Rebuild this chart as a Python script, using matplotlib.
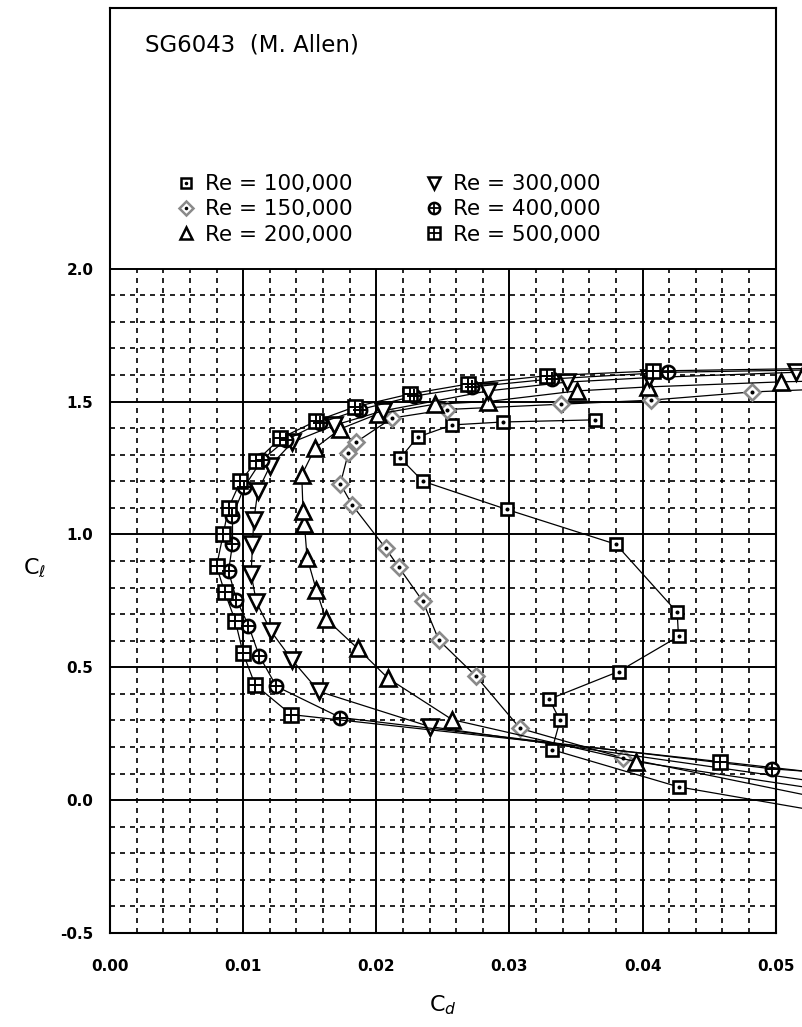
import matplotlib
matplotlib.use('Agg')
import matplotlib.pyplot as plt
import numpy as np
from matplotlib.lines import Line2D

plt.rcParams['font.family'] = ['DejaVu Sans']

# Polar data (Cd, Cl), ordered by angle of attack
re100_cd = [0.060, 0.0427, 0.0332, 0.0338, 0.0330, 0.0382, 0.0427, 0.0426, 0.0380,
            0.0298, 0.0235, 0.0218, 0.0231, 0.0257, 0.0295, 0.0364]
re100_cl = [-0.10, 0.05, 0.19, 0.30, 0.38, 0.484, 0.616, 0.707, 0.963,
            1.094, 1.20, 1.287, 1.366, 1.412, 1.423, 1.431]

re150_cd = [0.060, 0.0385, 0.0308, 0.0275, 0.0247, 0.0235, 0.0217, 0.0207, 0.0182,
            0.0173, 0.0179, 0.0185, 0.0212, 0.0253, 0.0339, 0.0406, 0.0482, 0.060]
re150_cl = [-0.06, 0.16, 0.27, 0.466, 0.602, 0.748, 0.876, 0.948, 1.11,
            1.19, 1.306, 1.348, 1.438, 1.47, 1.49, 1.505, 1.536, 1.56]

re200_cd = [0.060, 0.0395, 0.0257, 0.0209, 0.0186, 0.0162, 0.0155, 0.0148, 0.0146, 0.0145,
            0.0144, 0.0154, 0.0173, 0.0201, 0.0244, 0.0284, 0.0351, 0.0404, 0.0504, 0.060]
re200_cl = [-0.01, 0.145, 0.303, 0.458, 0.571, 0.683, 0.79, 0.913, 1.041, 1.087,
            1.223, 1.325, 1.397, 1.453, 1.49, 1.50, 1.54, 1.555, 1.574, 1.585]

re300_cd = [0.060, 0.024, 0.0157, 0.0137, 0.0121, 0.0110, 0.0106, 0.0107, 0.0108, 0.0111,
            0.0120, 0.0137, 0.0168, 0.0205, 0.0284, 0.0343, 0.0405, 0.0515, 0.060]
re300_cl = [0.02, 0.277, 0.409, 0.526, 0.635, 0.744, 0.85, 0.963, 1.053, 1.162,
            1.256, 1.347, 1.41, 1.465, 1.54, 1.573, 1.59, 1.61, 1.62]

re400_cd = [0.060, 0.0497, 0.0173, 0.0125, 0.0112, 0.0104, 0.0095, 0.0089, 0.0092, 0.0092,
            0.0101, 0.0114, 0.0132, 0.0158, 0.0188, 0.0228, 0.0272, 0.0332, 0.0419, 0.060]
re400_cl = [0.08, 0.118, 0.311, 0.428, 0.544, 0.657, 0.755, 0.861, 0.963, 1.07,
            1.18, 1.28, 1.355, 1.42, 1.47, 1.52, 1.555, 1.585, 1.61, 1.625]

re500_cd = [0.060, 0.0458, 0.0136, 0.0109, 0.0100, 0.0094, 0.0086, 0.0080, 0.0085, 0.0089,
            0.0098, 0.0110, 0.0128, 0.0155, 0.0184, 0.0225, 0.0269, 0.0328, 0.0408, 0.060]
re500_cl = [0.065, 0.145, 0.322, 0.434, 0.552, 0.676, 0.785, 0.88, 1.0, 1.1,
            1.2, 1.276, 1.362, 1.427, 1.48, 1.528, 1.566, 1.597, 1.615, 1.63]

labels = ['Re = 100,000', 'Re = 150,000', 'Re = 200,000',
          'Re = 300,000', 'Re = 400,000', 'Re = 500,000']
x_ticks = [0.00, 0.01, 0.02, 0.03, 0.04, 0.05]
y_ticks = [-0.5, 0.0, 0.5, 1.0, 1.5, 2.0]

# marker style per series: (base marker, edge colour, overlay marker, overlay size)
styles = [
    ('s', 'black', '.', 3),
    ('D', '#8a8a8a', '.', 3),
    ('^', 'black', None, 0),
    ('v', 'black', None, 0),
    ('o', 'black', '+', 9.5),
    ('s', 'black', '+', 9.5),
]
series = [(re100_cd, re100_cl), (re150_cd, re150_cl), (re200_cd, re200_cl),
          (re300_cd, re300_cl), (re400_cd, re400_cl), (re500_cd, re500_cl)]
sizes = [9, 8, 11, 11, 9.5, 9.5]

fig = plt.figure(figsize=(8.03, 10.27), dpi=100)
ax = fig.add_axes([0.137, 0.0915, 0.829, 0.9005])
ax.set_xlim(0, 0.05)
ax.set_ylim(-0.5, 2.98)

# grid only in the plotting part (below Cl = 2.0)
for x in np.arange(0.002, 0.05, 0.002):
    if abs(x / 0.01 - round(x / 0.01)) > 1e-6:
        ax.vlines(x, -0.5, 2.0, colors='black', linestyles=(0, (3, 3)), linewidth=1.2, zorder=1)
for y in np.arange(-0.4, 2.0, 0.1):
    if abs(y / 0.5 - round(y / 0.5)) > 1e-6:
        ax.hlines(y, 0, 0.05, colors='black', linestyles=(0, (3, 3)), linewidth=1.2, zorder=1)
for x in x_ticks[1:-1]:
    ax.vlines(x, -0.5, 2.0, colors='black', linewidth=1.4, zorder=1)
for y in y_ticks[1:]:
    ax.hlines(y, 0, 0.05, colors='black', linewidth=1.4, zorder=1)

handles = []
for (cd, cl), (mk, ec, ov, ovs), ms in zip(series, styles, sizes):
    ax.plot(cd, cl, color='black', linewidth=0.9, marker=mk, markersize=ms,
            markerfacecolor='white', markeredgecolor=ec, markeredgewidth=1.9,
            clip_on=False, zorder=3)
    h1 = Line2D([], [], linestyle='none', marker=mk, markersize=ms * 0.85,
                markerfacecolor='white', markeredgecolor=ec, markeredgewidth=1.8)
    if ov:
        ax.plot(cd, cl, linestyle='none', marker=ov, markersize=ovs, color='black',
                markeredgewidth=1.4, clip_on=False, zorder=4)
        h2 = Line2D([], [], linestyle='none', marker=ov, markersize=ovs * 0.85,
                    color='black', markeredgewidth=1.3)
        handles.append((h1, h2))
    else:
        handles.append(h1)

leg = ax.legend(handles, labels, ncol=2, loc='upper left', bbox_to_anchor=(0.085, 0.830),
                frameon=False, prop={'size': 15.5}, handlelength=1.0, borderaxespad=0,
                handletextpad=0.38, columnspacing=3.3, labelspacing=0.25, borderpad=0.4)

ax.text(0.052, 0.96, 'SG6043  (M. Allen)', transform=ax.transAxes,
        fontsize=16.5, ha='left', va='center')

ax.set_xticks(x_ticks)
ax.set_xticklabels([f'{v:.2f}' for v in x_ticks])
ax.set_yticks(y_ticks)
ax.set_yticklabels([f'{v:.1f}' for v in y_ticks])
ax.tick_params(length=0, labelsize=11)
ax.tick_params(axis='x', pad=19)
ax.tick_params(axis='y', pad=12)
for lab in ax.get_xticklabels() + ax.get_yticklabels():
    lab.set_fontweight('bold')

ax.set_xlabel(r'C$_d$', fontsize=16)
ax.xaxis.set_label_coords(0.5, -0.065)
ax.set_ylabel(r'C$_\ell$', fontsize=16, rotation=0, va='center')
ax.yaxis.set_label_coords(-0.113, 0.395)

for sp in ax.spines.values():
    sp.set_linewidth(1.5)

fig.savefig('out.png', dpi=100)
